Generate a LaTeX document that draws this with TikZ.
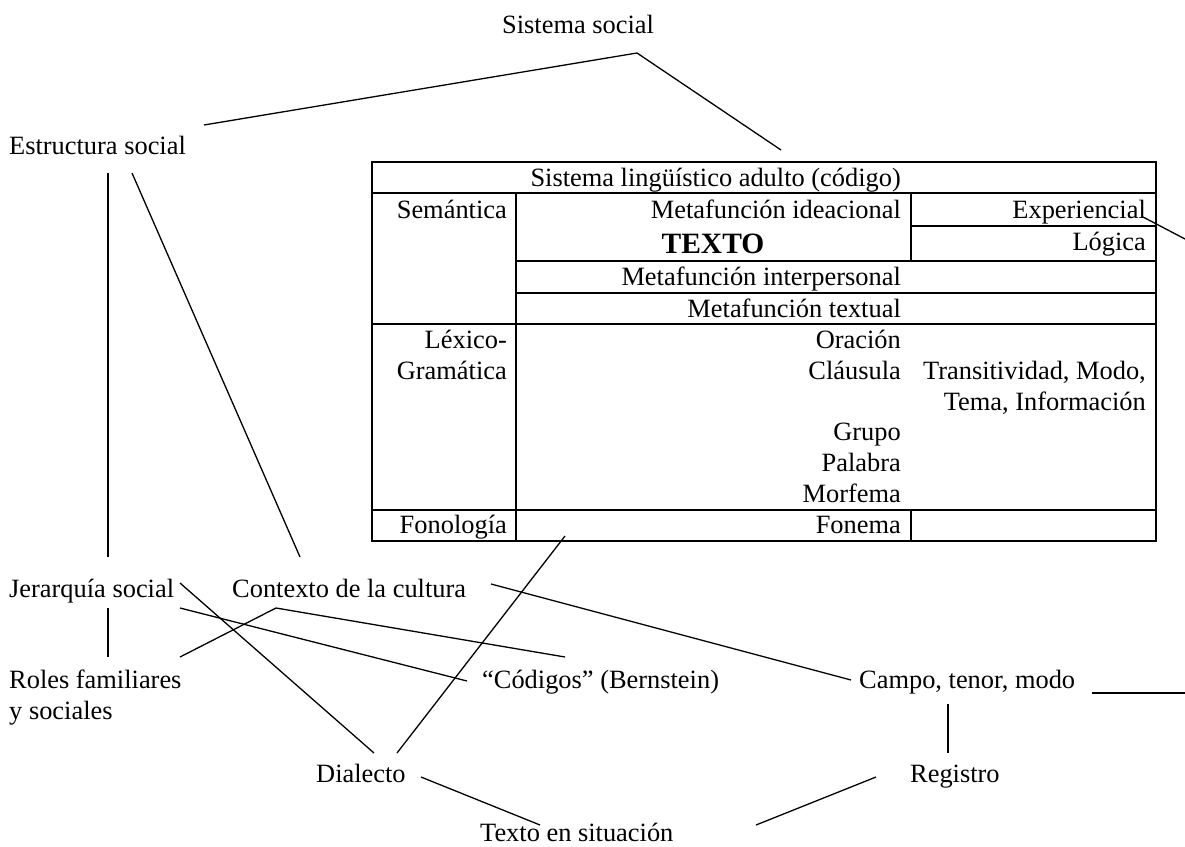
\documentclass[tikz,border=0pt]{standalone}
\usepackage{fontspec}
\setmainfont{Liberation Serif}
\begin{document}
\begin{tikzpicture}[x=1pt,y=-1pt,
  lbl/.style={inner sep=0pt, font=\fontsize{26.4}{31}\selectfont},
  lw/.style={lbl, anchor=base west},
  le/.style={lbl, anchor=base east},
  conn/.style={line width=1.3pt},
  rule/.style={line width=1.6pt}]
\useasboundingbox (0,0) rectangle (1185,846);

% ---------- the code table ----------
\draw[rule] (372,162) rectangle (1156,541);
\draw[rule] (372,193) -- (1156,193)
            (372,324) -- (1156,324)
            (372,510) -- (1156,510)
            (516,193) -- (516,541)
            (911,193) -- (911,261)
            (911,510) -- (911,541)
            (516,261) -- (1156,261)
            (516,293) -- (1156,293)
            (911,226) -- (1156,226);

\node[le] (code)  at (901,186) {Sistema lingüístico adulto (código)};
\node[le] (sem)   at (507,218) {Semántica};
\node[le] (idea)  at (901,218) {Metafunción ideacional};
\node[le] (exper) at (1146,218) {Experiencial};
\node[le] (logic) at (1146,250) {Lógica};
\node[inner sep=0pt, anchor=base, font=\fontsize{29.5}{31}\selectfont\bfseries] (texto) at (713,253) {TEXTO};
\node[le] (inter) at (901,285) {Metafunción interpersonal};
\node[le] (textual) at (901,317) {Metafunción textual};
\node[le] (lex1)  at (507,348) {Léxico-};
\node[le] (lex2)  at (507,379) {Gramática};
\node[le] (orac)  at (901,348) {Oración};
\node[le] (claus) at (901,379) {Cláusula};
\node[le] (trans1) at (1146,379) {Transitividad, Modo,};
\node[le] (trans2) at (1146,410) {Tema, Información};
\node[le] (grupo) at (901,440) {Grupo};
\node[le] (palab) at (901,471) {Palabra};
\node[le] (morf)  at (901,502) {Morfema};
\node[le] (fonol) at (507,533) {Fonología};
\node[le] (fonema) at (901,533) {Fonema};

% ---------- labels around the table ----------
\node[lw] (sist)   at (502,33)  {Sistema social};
\node[lw] (estr)   at (9,154)   {Estructura social};
\node[lw] (jer)    at (9,597)   {Jerarquía social};
\node[lw] (ctx)    at (232,597) {Contexto de la cultura};
\node[lbl, anchor=north west, align=left] (roles) at (9,670) {Roles familiares\\y sociales};
\node[lw] (cod)    at (482,688) {“Códigos” (Bernstein)};
\node[lw] (campo)  at (859,688) {Campo, tenor, modo};
\node[lw] (dial)   at (316,782) {Dialecto};
\node[lw] (reg)    at (910,782) {Registro};
\node[lw] (txtsit) at (480,841) {Texto en situación};

% ---------- connector end points ----------
\coordinate (sist-foot)  at (637,53);
\coordinate (estr-top)   at (204,125);
\coordinate (code-top)   at (781,150);
\coordinate (estr-a)     at (108,173);
\coordinate (estr-b)     at (132,173);
\coordinate (jer-top)    at (108,557);
\coordinate (ctx-top)    at (300,557);
\coordinate (jer-foot)   at (108,608);
\coordinate (roles-top)  at (108,657);
\coordinate (jer-end)    at (180,583);
\coordinate (jer-low)    at (180,608);
\coordinate (dial-a)     at (374,753);
\coordinate (dial-b)     at (397,753);
\coordinate (cod-end)    at (467,681);
\coordinate (roles-end)  at (180,657);
\coordinate (ctx-foot)   at (276,608);
\coordinate (cod-top)    at (565,657);
\coordinate (ctx-end)    at (491,584);
\coordinate (campo-end)  at (851,680);
\coordinate (fonema-foot) at (565,536);
\coordinate (dial-end)   at (421,777);
\coordinate (txt-a)      at (540,825);
\coordinate (reg-end)    at (876,777);
\coordinate (txt-b)      at (756,825);
\coordinate (campo-foot) at (948,704);
\coordinate (reg-top)    at (948,753);
\coordinate (campo-out)  at (1092,693);
\coordinate (campo-far)  at (1185,693);
\coordinate (exper-end)  at (1143,217);
\coordinate (exper-far)  at (1185,239);

% ---------- connectors ----------
\draw[conn] (estr-top) -- (sist-foot) -- (code-top);
\draw[conn] (estr-a) -- (jer-top);
\draw[conn] (estr-b) -- (ctx-top);
\draw[conn] (jer-foot) -- (roles-top);
\draw[conn] (jer-end) -- (dial-a);
\draw[conn] (jer-low) -- (cod-end);
\draw[conn] (roles-end) -- (ctx-foot) -- (cod-top);
\draw[conn] (ctx-end) -- (campo-end);
\draw[conn] (dial-b) -- (fonema-foot);
\draw[conn] (dial-end) -- (txt-a);
\draw[conn] (reg-end) -- (txt-b);
\draw[conn] (campo-foot) -- (reg-top);
\draw[conn] (campo-out) -- (campo-far);
\draw[conn] (exper-end) -- (exper-far);
\end{tikzpicture}
\end{document}
